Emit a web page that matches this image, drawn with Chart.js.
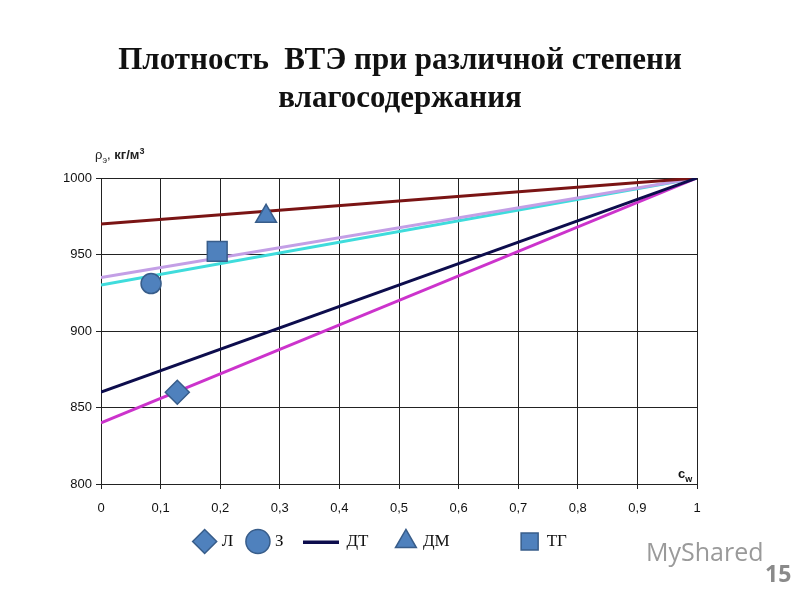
<!DOCTYPE html>
<html><head><meta charset="utf-8">
<script src="https://cdn.jsdelivr.net/npm/chart.js@4"></script>
<style>
html,body{margin:0;padding:0;background:#fff;width:800px;height:600px;overflow:hidden;}
#wrap{position:absolute;left:0;top:0;width:800px;height:600px;}
.t{position:absolute;font-family:"Liberation Serif","Times New Roman",serif;font-weight:bold;font-size:31px;color:#111;text-align:center;width:800px;left:0;}
.yl{position:absolute;left:95px;top:146px;font-family:"Liberation Sans",Arial,sans-serif;font-size:13px;font-weight:bold;color:#222;}
.cw{position:absolute;left:678px;top:466px;font-family:"Liberation Sans",Arial,sans-serif;font-size:13px;font-weight:bold;color:#111;}
.wm{position:absolute;left:646px;top:534px;font-family:"Open Sans",sans-serif;font-size:25px;color:#9a9a9a;}
.pg{position:absolute;left:765px;top:557px;font-family:"Open Sans",sans-serif;font-size:23px;font-weight:bold;color:#8a8a8a;}
</style></head>
<body>
<div id="wrap"><canvas id="c" width="800" height="600"></canvas></div>
<div class="t" style="top:41px">Плотность&nbsp; ВТЭ при различной степени</div>
<div class="t" style="top:79px">влагосодержания</div>
<div class="yl"><span style="font-weight:normal">ρ<sub style="font-size:9px">э</sub>,</span> кг/м<sup style="font-size:9px">3</sup></div>
<div class="cw">c<sub style="font-size:9px">w</sub></div>
<div class="wm">MyShared</div>
<div class="pg">15</div>
<script>
const xTickLabels = ['0','0,1','0,2','0,3','0,4','0,5','0,6','0,7','0,8','0,9','1'];
const lineX = [0, 1];
const lineBrown = [970, 1000];
const lineLilac = [935, 1000];
const lineCyan = [930, 1000];
const lineDT = [860, 1000];
const lineMagenta = [840, 1000];
const ptL = [{x:0.128, y:860}];
const ptZ = [{x:0.084, y:931}];
const ptDM = [{x:0.277, y:975}];
const ptTG = [{x:0.195, y:952}];

const mk = ys => lineX.map((x,i)=>({x:x,y:ys[i]}));
const fill = '#4f81bd', edge = '#385d8a';
const dtColor = '#0d0d4d';
const lineImg = document.createElement('canvas');
lineImg.width = 36; lineImg.height = 4;
(function(){const g=lineImg.getContext('2d'); g.fillStyle=dtColor; g.fillRect(0,1,36,3);})();

const legendText = {'Л':'Л ', 'З':'З    ', 'ДТ':'  ДТ    ', 'ДМ':'ДМ              ', 'ТГ':'ТГ'};

const lineDs = (label, ys, color, legend) => ({type:'line', label, data:mk(ys), borderColor:color, backgroundColor:color, borderWidth:3, pointRadius:0, pointStyle:'line', showLine:true, inLegend:legend});
const ptDs = (label, d, style, r) => ({type:'scatter', label, data:d, pointStyle:style, pointRadius:r, pointHoverRadius:r, backgroundColor:fill, borderColor:edge, borderWidth:1.5, inLegend:true});

const legendShift = {
  id:'legendShift',
  afterLayout(chart){ if (chart.legend){ chart.legend.left += 33; chart.legend.right += 33; } }
};

new Chart(document.getElementById('c'), {
  data: {datasets: [
    ptDs('Л', ptL, 'rectRot', 12),
    ptDs('З', ptZ, 'circle', 10),
    lineDs('ДТ', lineDT, dtColor, true),
    ptDs('ДМ', ptDM, 'triangle', 12),
    ptDs('ТГ', ptTG, 'rect', 14),
    lineDs('1', lineBrown, '#7a1414', false),
    lineDs('2', lineLilac, '#c39fe6', false),
    lineDs('3', lineCyan, '#3fdcdc', false),
    lineDs('4', lineMagenta, '#cc33cc', false)
  ]},
  plugins:[legendShift],
  options: {
    responsive:false, animation:false, devicePixelRatio:1,
    layout:{padding:{left:0, right:103, top:178, bottom:40}},
    plugins:{
      tooltip:{enabled:false},
      legend:{position:'bottom', labels:{
        usePointStyle:true, boxHeight:18, padding:12,
        color:'#111', font:{family:"'Liberation Serif','Times New Roman',serif", size:17},
        filter:(item, data)=>data.datasets[item.datasetIndex].inLegend,
        generateLabels:(chart)=>{
          const items = Chart.defaults.plugins.legend.labels.generateLabels(chart);
          items.forEach(it=>{
            if (it.text==='ДТ') it.pointStyle = lineImg;
            if (legendText[it.text] !== undefined) it.text = legendText[it.text];
          });
          return items;
        }
      }}
    },
    scales:{
      x:{type:'linear', min:0, max:1,
        afterFit: s => { s.height = 37; },
        grid:{color:'#222', lineWidth:1, tickLength:5, drawTicks:true},
        border:{color:'#222'},
        ticks:{stepSize:0.1, autoSkip:false, color:'#111', padding:12,
          font:{family:"'Liberation Sans',Arial,sans-serif", size:13},
          callback:(v,i)=>xTickLabels[i]}
      },
      y:{min:800, max:1000,
        afterFit: s => { s.width = 101; },
        grid:{color:'#222', lineWidth:1, tickLength:5},
        border:{color:'#222'},
        ticks:{stepSize:50, color:'#111', padding:4,
          font:{family:"'Liberation Sans',Arial,sans-serif", size:13},
          callback:v=>String(v)}
      }
    }
  }
});
</script>
</body></html>
